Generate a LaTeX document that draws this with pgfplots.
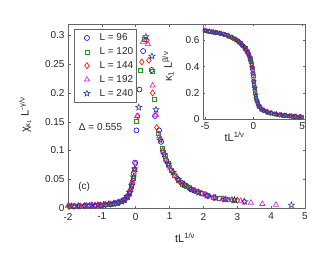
\documentclass[border=0pt]{standalone}
\usepackage{fontspec}
\setmainfont{Liberation Sans}
\usepackage{pgfplots}
\pgfplotsset{compat=1.18}
\definecolor{cA}{rgb}{0,0,1}
\definecolor{cB}{rgb}{0.12,0.6,0.12}
\definecolor{cC}{rgb}{1,0,0}
\definecolor{cD}{rgb}{0.85,0.1,0.85}
\definecolor{cE}{rgb}{0.15,0.25,0.6}
\pgfdeclareplotmark{pstar}{%
  \pgfpathmoveto{\pgfpointpolar{90}{\pgfplotmarksize}}%
  \pgfpathlineto{\pgfpointpolar{126}{0.42\pgfplotmarksize}}%
  \pgfpathlineto{\pgfpointpolar{162}{\pgfplotmarksize}}%
  \pgfpathlineto{\pgfpointpolar{198}{0.42\pgfplotmarksize}}%
  \pgfpathlineto{\pgfpointpolar{234}{\pgfplotmarksize}}%
  \pgfpathlineto{\pgfpointpolar{270}{0.42\pgfplotmarksize}}%
  \pgfpathlineto{\pgfpointpolar{306}{\pgfplotmarksize}}%
  \pgfpathlineto{\pgfpointpolar{342}{0.42\pgfplotmarksize}}%
  \pgfpathlineto{\pgfpointpolar{18}{\pgfplotmarksize}}%
  \pgfpathlineto{\pgfpointpolar{54}{0.42\pgfplotmarksize}}%
  \pgfpathclose
  \pgfusepathqstroke
}
\pgfplotsset{
  mk/.style={draw=none, line width=0.6pt,
    legend image code/.code={\path (0pt,0pt) (22.3pt,0pt); \draw[##1,/tikz/only marks] plot coordinates {(10.7pt,0pt)};}},
  sA/.style={mk, color=cA, mark=o, mark size=2.5pt},
  sB/.style={mk, color=cB, mark=square, mark size=2pt},
  sC/.style={mk, color=cC, mark=diamond, mark size=3pt},
  sD/.style={mk, color=cD, mark=triangle, mark size=3pt},
  sE/.style={mk, color=cE, mark=pstar, mark size=3.2pt},
  mat/.style={scale only axis, clip=false,
    axis line style={draw=black!60, line width=0.5pt},
    tick style={draw=black!60, line width=0.5pt},
    major tick length=2.5pt,
    tick align=inside, xtick pos=both, ytick pos=both,
    tick label style={font=\fontsize{10}{12}\selectfont, text=black!85},
    label style={font=\fontsize{11}{13}\selectfont, text=black!85},
  },
}
\begin{document}
\begin{tikzpicture}[x=1pt,y=1pt]
\path[use as bounding box] (0,0) rectangle (312,258);
\begin{axis}[mat, at={(68pt,50pt)}, anchor=south west, width=237pt, height=184pt,
  xmin=-2, xmax=5, ymin=0, ymax=0.32,
  xtick={-2,-1,0,1,2,3,4,5}, xticklabels={-2,-1,0,1,2,3,4,5},
  ytick={0,0.05,0.1,0.15,0.2,0.25,0.3}, yticklabels={0,0.05,0.1,0.15,0.2,0.25,0.3},
  xticklabel style={yshift=-1.5pt},
  xlabel={tL\textsuperscript{1/ν}},
  xlabel style={at={(axis description cs:0.494,-0.163)}, anchor=center},
  ylabel={χ\textsubscript{κ\textsubscript{1}} L\textsuperscript{-γ/ν}},
  ylabel style={at={(axis description cs:-0.181,0.505)}, anchor=center},
  legend style={at={(0.0253,0.9728)}, anchor=north west, draw=black!60, line width=0.5pt,
    font=\fontsize{10}{12}\selectfont, text=black!85, inner xsep=2pt, inner ysep=2pt,
    nodes={inner xsep=1pt, inner ysep=2.5pt}, column sep=0pt, row sep=0.4pt},
  legend cell align=left,
]
\addplot[sA] coordinates {
(-1.95,0.0031) (-1.8,0.0033) (-1.65,0.0036) (-1.5,0.0039) (-1.35,0.0043) (-1.2,0.0047)
(-1.05,0.0052) (-0.9,0.0059) (-0.76,0.0068) (-0.63,0.0080) (-0.51,0.0096) (-0.41,0.0118)
(-0.32,0.0150) (-0.24,0.0205) (-0.17,0.0290) (-0.11,0.0420) (-0.06,0.0600) (-0.02,0.0790)
(0.02,0.135) (0.11,0.206) (0.22,0.273) (0.47,0.240) (0.57,0.160) (0.69,0.135)
(0.75,0.115) (0.82,0.097) (0.9,0.083) (0.98,0.073) (1.06,0.065) (1.15,0.057) (1.25,0.050)
(1.35,0.044) (1.46,0.039) (1.58,0.035) (1.7,0.031) (1.84,0.028) (1.98,0.025) (2.14,0.021)
(2.3,0.018) (2.48,0.0165) (2.66,0.0152)
};
\addlegendentry{L = 96}
\addplot[sB] coordinates {
(-1.92,0.0031) (-1.74,0.0034) (-1.56,0.0038) (-1.38,0.0042) (-1.2,0.0047) (-1.02,0.0053)
(-0.86,0.0061) (-0.71,0.0073) (-0.57,0.0087) (-0.45,0.0108) (-0.35,0.0138) (-0.26,0.0190)
(-0.19,0.0255) (-0.13,0.0370) (-0.08,0.0510) (-0.03,0.0680)
(0.03,0.150) (0.14,0.240) (0.25,0.294) (0.48,0.238) (0.54,0.189) (0.66,0.130)
(0.78,0.104) (0.86,0.090) (0.95,0.077) (1.05,0.066) (1.15,0.057) (1.26,0.049) (1.38,0.042)
(1.5,0.037) (1.64,0.033) (1.78,0.029) (1.94,0.025) (2.1,0.022) (2.28,0.019) (2.48,0.0165)
(2.7,0.0150) (2.92,0.0140)
};
\addlegendentry{L = 120}
\addplot[sC] coordinates {
(-1.98,0.0030) (-1.84,0.0033) (-1.68,0.0035) (-1.52,0.0039) (-1.36,0.0042) (-1.2,0.0047)
(-1.04,0.0053) (-0.89,0.0060) (-0.74,0.0070) (-0.6,0.0083) (-0.48,0.0102) (-0.37,0.0130)
(-0.28,0.0175) (-0.2,0.0240) (-0.14,0.0345) (-0.09,0.0480) (-0.04,0.0640) (-0.01,0.0770)
(0.06,0.160) (0.18,0.254) (0.33,0.292) (0.39,0.257) (0.5,0.200) (0.62,0.140)
(0.72,0.120) (0.8,0.100) (0.88,0.086) (0.97,0.075) (1.08,0.063) (1.2,0.053) (1.32,0.045)
(1.45,0.040) (1.6,0.034) (1.76,0.030) (1.93,0.026) (2.12,0.021) (2.34,0.018) (2.58,0.0157)
(2.84,0.0143) (3.0,0.0135) (3.2,0.0112)
};
\addlegendentry{L = 144}
\addplot[sD] coordinates {
(-2.0,0.0040) (-1.82,0.0034) (-1.64,0.0036) (-1.46,0.0040) (-1.28,0.0045) (-1.1,0.0050)
(-0.93,0.0057) (-0.77,0.0067) (-0.62,0.0081) (-0.49,0.0100) (-0.38,0.0126) (-0.29,0.0168)
(-0.21,0.0230) (-0.15,0.0320) (-0.1,0.0450) (-0.03,0.0660)
(0.04,0.160) (0.21,0.289) (0.36,0.285) (0.5,0.213) (0.6,0.162)
(0.7,0.125) (0.8,0.100) (0.9,0.083) (1.02,0.069) (1.16,0.056) (1.3,0.046) (1.46,0.039)
(1.64,0.033) (1.84,0.028) (2.06,0.023) (2.3,0.0185) (2.56,0.0158) (2.84,0.0143) (3.1,0.0125)
(3.4,0.0092) (3.74,0.0070) (4.14,0.0055)
};
\addlegendentry{L = 192}
\addplot[sE] coordinates {
(-1.9,0.0032) (-1.7,0.0035) (-1.5,0.0039) (-1.3,0.0044) (-1.12,0.0049) (-0.95,0.0057)
(-0.8,0.0065) (-0.66,0.0077) (-0.53,0.0093) (-0.42,0.0115) (-0.33,0.0148) (-0.25,0.0200)
(-0.18,0.0270) (-0.12,0.0390) (-0.07,0.0540) (-0.03,0.0680)
(0.09,0.175) (0.3,0.298) (0.48,0.264) (0.6,0.171)
(0.72,0.118) (0.84,0.093) (0.96,0.076) (1.1,0.062) (1.26,0.050) (1.44,0.041) (1.64,0.033)
(1.86,0.027) (2.1,0.022) (2.36,0.0175) (2.64,0.0152) (2.92,0.0140) (3.22,0.0110) (4.6,0.0050)
};
\addlegendentry{L = 240}
\node[anchor=west, font=\fontsize{10}{12}\selectfont, text=black!85] at (axis cs:-1.78,0.14) {Δ = 0.555};
\node[anchor=west, font=\fontsize{10}{12}\selectfont, text=black!85] at (axis cs:-1.8,0.036) {(c)};
\end{axis}
\begin{axis}[mat, at={(203pt,139pt)}, anchor=south west, width=102pt, height=95pt,
  axis background/.style={fill=white},
  xmin=-5.2, xmax=5.3, ymin=0, ymax=0.725,
  major tick length=2pt,
  xtick={-5,0,5}, xticklabels={-5,0,5},
  ytick={0,0.2,0.4,0.6}, yticklabels={0,0.2,0.4,0.6},
  xlabel={tL\textsuperscript{1/ν}},
  xlabel style={at={(axis description cs:0.31,-0.19)}, anchor=center},
  ylabel={κ\textsubscript{1} L\textsuperscript{β/ν}},
  ylabel style={at={(axis description cs:-0.343,0.55)}, anchor=center},
]
\addplot[sA, mark size=2pt, line width=0.5pt] coordinates {
(-5,0.675) (-4.6,0.669) (-4.2,0.664) (-3.8,0.659) (-3.4,0.653) (-3.0,0.645) (-2.6,0.635)
(-2.2,0.622) (-1.8,0.605) (-1.5,0.588) (-1.2,0.568) (-0.95,0.550) (-0.75,0.529) (-0.55,0.502)
(-0.4,0.474) (-0.27,0.440) (-0.16,0.397) (-0.07,0.352) (0.02,0.290) (0.1,0.245) (0.2,0.190)
(0.32,0.145) (0.5,0.108) (0.75,0.082) (1.05,0.065) (1.4,0.054) (1.8,0.045) (2.3,0.038)
(2.8,0.032) (3.3,0.027) (3.8,0.023) (4.3,0.019) (4.8,0.016)
};
\addplot[sB, mark size=1.6pt, line width=0.5pt] coordinates {
(-4.9,0.674) (-4.45,0.668) (-4.0,0.662) (-3.6,0.657) (-3.2,0.649) (-2.8,0.640) (-2.4,0.629)
(-2.0,0.615) (-1.65,0.598) (-1.35,0.578) (-1.08,0.561) (-0.85,0.540) (-0.65,0.516) (-0.48,0.490)
(-0.34,0.460) (-0.22,0.422) (-0.12,0.380) (-0.03,0.330) (0.06,0.270) (0.15,0.220) (0.26,0.165)
(0.4,0.125) (0.6,0.095) (0.9,0.072) (1.2,0.060) (1.6,0.049) (2.05,0.041) (2.55,0.034)
(3.05,0.029) (3.55,0.025) (4.05,0.021) (4.55,0.018) (5.0,0.015)
};
\addplot[sC, mark size=2.4pt, line width=0.5pt] coordinates {
(-4.8,0.672) (-4.3,0.666) (-3.9,0.661) (-3.5,0.655) (-3.1,0.647) (-2.7,0.637) (-2.3,0.625)
(-1.9,0.610) (-1.55,0.592) (-1.25,0.572) (-1.0,0.555) (-0.8,0.535) (-0.6,0.510) (-0.44,0.483)
(-0.31,0.453) (-0.19,0.411) (-0.1,0.370) (-0.01,0.305) (0.08,0.257) (0.18,0.200) (0.3,0.150)
(0.45,0.115) (0.7,0.086) (1.0,0.067) (1.35,0.055) (1.75,0.046) (2.2,0.039) (2.7,0.033)
(3.2,0.028) (3.7,0.024) (4.2,0.020) (4.7,0.017)
};
\addplot[sD, mark size=2.4pt, line width=0.5pt] coordinates {
(-5.0,0.675) (-4.5,0.668) (-4.1,0.663) (-3.7,0.658) (-3.3,0.651) (-2.9,0.642) (-2.5,0.632)
(-2.1,0.619) (-1.7,0.602) (-1.4,0.582) (-1.15,0.565) (-0.9,0.545) (-0.7,0.523) (-0.52,0.497)
(-0.37,0.467) (-0.25,0.433) (-0.14,0.388) (-0.05,0.340) (0.04,0.280) (0.13,0.230) (0.24,0.174)
(0.37,0.133) (0.55,0.100) (0.85,0.075) (1.15,0.062) (1.5,0.051) (1.9,0.044) (2.4,0.036)
(2.9,0.031) (3.4,0.026) (3.9,0.022) (4.4,0.019) (4.9,0.016)
};
\addplot[sE, mark size=2.5pt, line width=0.5pt] coordinates {
(-4.95,0.674) (-4.55,0.669) (-4.15,0.664) (-3.75,0.658) (-3.35,0.652) (-2.95,0.643) (-2.55,0.633)
(-2.15,0.620) (-1.75,0.603) (-1.45,0.585) (-1.18,0.566) (-0.92,0.547) (-0.72,0.525) (-0.53,0.498)
(-0.38,0.470) (-0.26,0.436) (-0.15,0.393) (-0.06,0.346) (0.03,0.285) (0.12,0.235) (0.22,0.180)
(0.35,0.138) (0.52,0.104) (0.8,0.078) (1.1,0.064) (1.45,0.052) (1.85,0.045) (2.35,0.037)
(2.85,0.031) (3.35,0.027) (3.85,0.022) (4.35,0.019) (4.85,0.016)
};
\end{axis}
\end{tikzpicture}
\end{document}
